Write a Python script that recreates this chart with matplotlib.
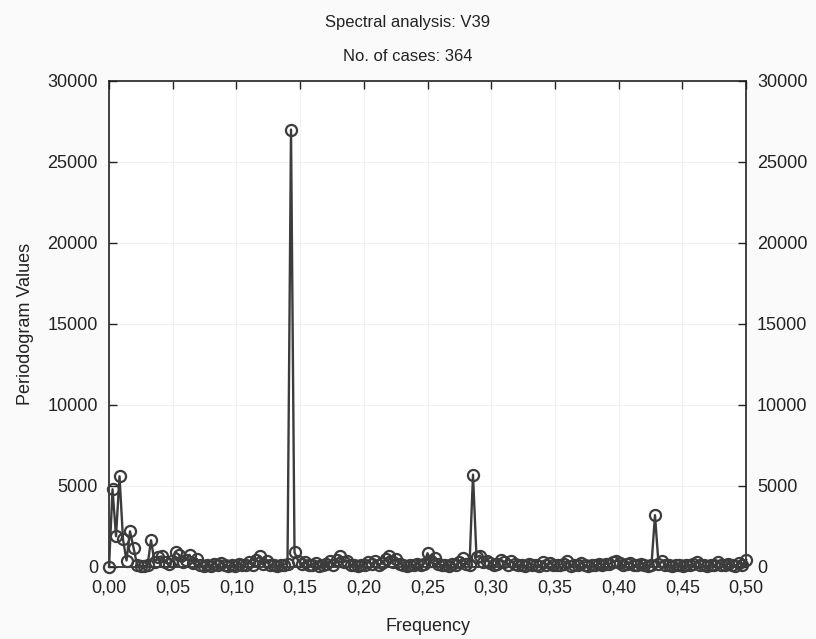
import numpy as np
import matplotlib.pyplot as plt
from matplotlib.ticker import FuncFormatter, MultipleLocator

n_cases = 364

# periodogram values for frequencies k/364, k = 0..182
periodogram = [
    0, 4800, 1900, 5600, 1700, 400, 2200, 1200, 150, 80,
    50, 100, 1650, 300, 600, 650, 300, 200, 350, 900,
    750, 300, 450, 750, 250, 500, 100, 50, 150, 80,
    200, 100, 250, 150, 50, 100, 80, 200, 100, 150,
    300, 100, 450, 650, 200, 350, 100, 150, 80, 100,
    150, 200, 27000, 900, 400, 200, 300, 100, 150, 250,
    50, 100, 200, 350, 150, 450, 650, 300, 400, 100,
    150, 80, 100, 150, 300, 200, 350, 100, 250, 500,
    650, 300, 500, 200, 100, 50, 150, 100, 200, 100,
    200, 850, 350, 550, 200, 100, 150, 50, 200, 100,
    300, 550, 200, 100, 5700, 600, 700, 300, 400, 250,
    100, 200, 450, 300, 150, 350, 200, 100, 150, 50,
    200, 150, 100, 80, 300, 150, 250, 100, 150, 150,
    200, 400, 50, 150, 100, 250, 100, 50, 150, 100,
    200, 150, 200, 200, 300, 400, 250, 100, 200, 250,
    100, 150, 200, 100, 80, 150, 3200, 200, 350, 150,
    100, 80, 150, 100, 50, 150, 100, 200, 300, 150,
    100, 50, 150, 100, 300, 150, 100, 200, 150, 80,
    250, 150, 450,
]
frequency = np.arange(len(periodogram)) / n_cases

plt.rcParams['font.family'] = ['Liberation Sans', 'DejaVu Sans']

fig = plt.figure(figsize=(8.16, 6.39), dpi=100, facecolor='#fafafa')
ax = fig.add_axes([0.1336, 0.1127, 0.7806, 0.7606])
ax.set_facecolor('white')

ax.plot(frequency, periodogram, '-o', color='#3c3c3c', lw=1.7,
        marker='o', ms=8, mfc='none', mec='#3c3c3c', mew=1.6, clip_on=False, zorder=3)

ax.set_xlim(0, 0.5)
ax.set_ylim(0, 30000)
ax.xaxis.set_major_locator(MultipleLocator(0.05))
ax.yaxis.set_major_locator(MultipleLocator(5000))
ax.xaxis.set_major_formatter(FuncFormatter(lambda v, p: f"{v:.2f}".replace('.', ',')))
ax.yaxis.set_major_formatter(FuncFormatter(lambda v, p: f"{v:.0f}"))
ax.grid(True, color='#f0f0f0', lw=0.8, zorder=0)
ax.tick_params(direction='in', length=6, width=1, top=True, right=True,
               labelright=True, labelsize=13, colors='#222222')
ax.tick_params(axis='x', pad=9)
ax.tick_params(axis='y', pad=8)
for s in ax.spines.values():
    s.set_color('#222222')
    s.set_linewidth(1.2)

ax.set_ylabel('Periodogram Values', fontsize=13, labelpad=10, color='#222222')
fig.text(0.525, 0.019, 'Frequency', ha='center', va='center', fontsize=13, color='#222222')
fig.text(0.5, 0.965, 'Spectral analysis: V39', ha='center', va='center', fontsize=12, color='#222222')
fig.text(0.5, 0.911, 'No. of cases: 364', ha='center', va='center', fontsize=12, color='#222222')

plt.savefig('out.png', dpi=100, facecolor=fig.get_facecolor())
